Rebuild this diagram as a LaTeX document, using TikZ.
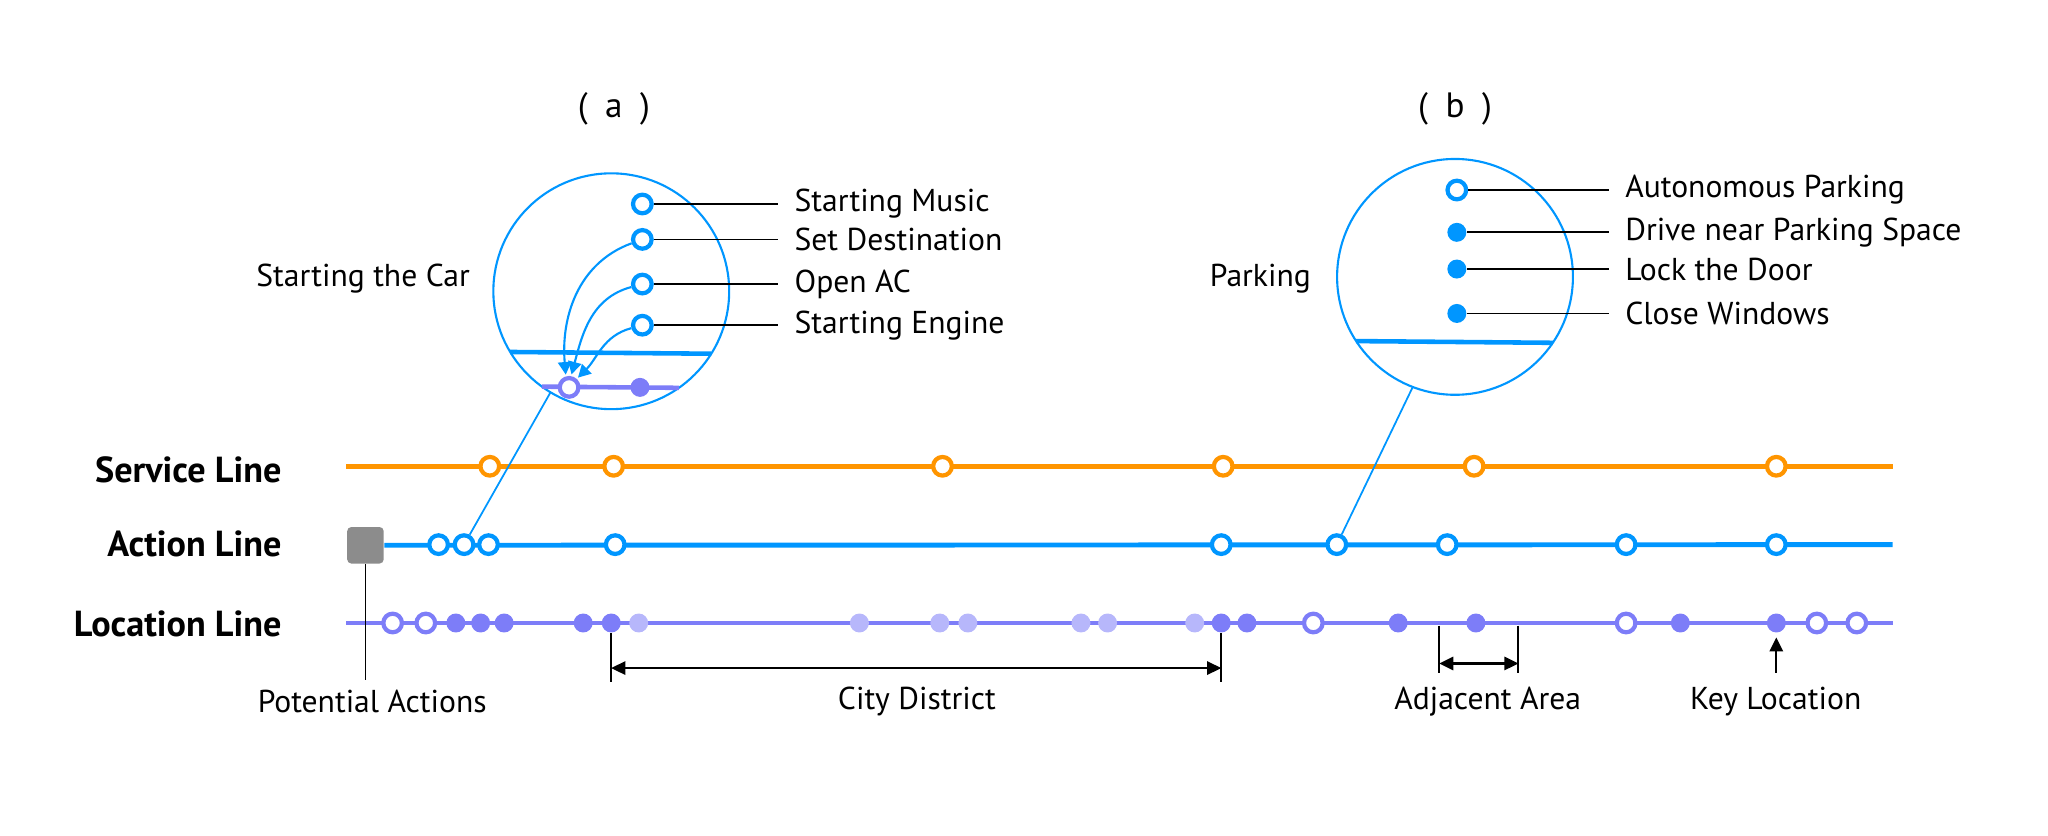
\documentclass[tikz,border=0pt]{standalone}
\usepackage{fontspec}
\setmainfont{PT Sans}
\usetikzlibrary{arrows.meta, positioning}
\definecolor{serviceorange}{RGB}{255,149,0}
\definecolor{actionblue}{RGB}{0,150,255}
\definecolor{locpurple}{RGB}{125,125,248}
\colorlet{locfaint}{locpurple!55}
\definecolor{potgrey}{RGB}{140,140,140}

\begin{document}
\begin{tikzpicture}[x=0.01306cm, y=0.01306cm,
    every node/.style={font=\fontsize{9}{11}\selectfont},
    rowlabel/.style={anchor=east, font=\fontsize{10.3}{12}\selectfont\bfseries},
    lbl/.style={anchor=west, inner xsep=4.4pt, inner ysep=1pt},
    ring/.style={circle, draw=#1, fill=white, line width=1.2pt, minimum size=5.3pt, inner sep=0pt},
    dot/.style={circle, fill=#1, minimum size=5.4pt, inner sep=0pt},
    lochollow/.style={ring=locpurple},
    locdot/.style={dot=locpurple},
    locfaintdot/.style={dot=locfaint},
    lens/.style={circle, draw=actionblue, line width=0.6pt, minimum size=67.1pt, inner sep=0pt, outer sep=0pt},
    leader/.style={draw=black, line width=0.5pt},
    track/.style={line width=1.4pt},
    dim/.style={draw=black, line width=0.6pt, arrows={-Triangle[length=4pt, width=3.8pt]}},
    flow/.style={draw=actionblue, line width=0.6pt, arrows={-Triangle[length=3.6pt, width=3.8pt]}, shorten >=0.5pt},
]
    \useasboundingbox (0,0) rectangle (1568,640);

    % Row titles
    \node[rowlabel] (tservice) at (225,280) {Service Line};
    \node[rowlabel] (taction) at (225,223.4) {Action Line};
    \node[rowlabel] (tloc) at (225,162.7) {Location Line};

    % Service line
    \coordinate (sstart) at (265,283);
    \coordinate (send) at (1449,283);
    \draw[serviceorange, track] (sstart) -- (send);
    \foreach \x [count=\i] in {375, 469.8, 721.6, 936.5, 1128.6, 1360}
        \node[ring=serviceorange] (s\i) at (\x,283) {};

    % Action line
    \node[fill=potgrey, rounded corners=1.2pt, minimum size=10.4pt, inner sep=0pt] (pa) at (279.8,222.5) {};
    \coordinate (aend) at (1449,223);
    \draw[actionblue, track] (pa.east) -- (aend);
    \foreach \x [count=\i] in {335.8, 355.3, 374, 471, 935, 1023.5, 1108, 1245, 1360}
        \node[ring=actionblue] (a\i) at (\x,223) {};

    % Location line
    \coordinate (lstart) at (265,163);
    \coordinate (lend) at (1449,163);
    \draw[locpurple, track] (lstart) -- (lend);
    \foreach \x/\t [count=\i] in {300.6/lochollow, 326/lochollow, 349/locdot, 368/locdot, 386/locdot,
        446.5/locdot, 468/locdot, 489/locfaintdot, 658/locfaintdot, 719.5/locfaintdot, 741/locfaintdot,
        827.6/locfaintdot, 848/locfaintdot, 914.7/locfaintdot, 935/locdot, 954.7/locdot, 1005.5/lochollow,
        1070.5/locdot, 1130/locdot, 1245/lochollow, 1286.5/locdot, 1360/locdot, 1391/lochollow, 1421.6/lochollow}
        \node[\t] (l\i) at (\x,163) {};

    % (a) Starting the car
    \node[font=\fontsize{10}{12}\selectfont] (titlea) at (470,557) {(\enspace a\enspace)};
    \node[lens] (lensa) at (468,417) {};
    \node (tcar) at (278,427) {Starting the Car};
    \draw[actionblue, line width=1.3pt] (lensa.211.3) -- (lensa.328.7);
    \draw[locpurple, line width=1.3pt] (lensa.234.4) -- (lensa.305.6);
    \node[lochollow] (lpa) at (435.7,343.4) {};
    \node[locdot] (lpb) at (490,343.4) {};
    \node[ring=actionblue] (sm) at (491.8,483.8) {};
    \node[ring=actionblue] (sd) at (491.8,456.7) {};
    \node[ring=actionblue] (oa) at (491.8,422.5) {};
    \node[ring=actionblue] (se) at (491.8,391) {};
    \node[lbl] (tsm) at (596,483.8) {Starting Music};
    \node[lbl] (tsd) at (596,456.7) {Set Destination};
    \node[lbl] (toa) at (596,422.5) {Open AC};
    \node[lbl] (tse) at (596,391) {Starting Engine};
    \draw[leader] (sm) -- (tsm.west);
    \draw[leader] (sd) -- (tsd.west);
    \draw[leader] (oa) -- (toa.west);
    \draw[leader] (se) -- (tse.west);
    \draw[flow] (sd.200) to[out=200, in=95] (lpa.106);
    \draw[flow] (oa.195) to[out=195, in=75] (lpa.80);
    \draw[flow] (se.195) to[out=195, in=45] (lpa.48);
    \draw[actionblue, line width=0.5pt] (a2) -- (lensa.239.4);

    % (b) Parking
    \node[font=\fontsize{10}{12}\selectfont] (titleb) at (1114,557) {(\enspace b\enspace)};
    \node[lens] (lensb) at (1114,428) {};
    \node (tpark) at (965,427) {Parking};
    \draw[actionblue, line width=1.3pt] (lensb.213.8) -- (lensb.326.2);
    \node[ring=actionblue] (ap) at (1115.4,494.5) {};
    \node[dot=actionblue] (dn) at (1115.4,462.1) {};
    \node[dot=actionblue] (ld) at (1115.4,434) {};
    \node[dot=actionblue] (cw) at (1115.4,400) {};
    \node[lbl] (tap) at (1232,494.5) {Autonomous Parking};
    \node[lbl] (tdn) at (1232,462.1) {Drive near Parking Space};
    \node[lbl] (tld) at (1232,434) {Lock the Door};
    \node[lbl] (tcw) at (1232,400) {Close Windows};
    \draw[leader] (ap) -- (tap.west);
    \draw[leader] (dn) -- (tdn.west);
    \draw[leader] (ld) -- (tld.west);
    \draw[leader] (cw) -- (tcw.west);
    \draw[actionblue, line width=0.5pt] (a6) -- (lensb.249.4);

    % Potential actions
    \node (tpa) at (285,103) {Potential Actions};
    \coordinate (pend) at (279.8,119);
    \draw[leader] (pa.south) -- (pend);

    % City district
    \node (tcd) at (702,103) {City District};
    \coordinate (cd1) at (468,118);
    \coordinate (cd2) at (935,118);
    \coordinate (cda) at (468,128.5);
    \coordinate (cdb) at (935,128.5);
    \draw[leader] (l7) -- (cd1);
    \draw[leader] (l15) -- (cd2);
    \draw[dim, arrows={Triangle[length=4pt, width=3.8pt]-Triangle[length=4pt, width=3.8pt]}] (cda) -- (cdb);

    % Adjacent area
    \node (taa) at (1139,103) {Adjacent Area};
    \coordinate (aa1) at (1102,161);
    \coordinate (aa1b) at (1102,124.4);
    \coordinate (aa2) at (1162.5,161);
    \coordinate (aa2b) at (1162.5,124.4);
    \coordinate (aaa) at (1102,132);
    \coordinate (aab) at (1162.5,132);
    \draw[leader] (aa1) -- (aa1b);
    \draw[leader] (aa2) -- (aa2b);
    \draw[dim, arrows={Triangle[length=4pt, width=3.8pt]-Triangle[length=4pt, width=3.8pt]}] (aaa) -- (aab);

    % Key location
    \node (tkey) at (1359.5,103) {Key Location};
    \coordinate (keyb) at (1360,125);
    \draw[dim, shorten >=1.2pt] (keyb) -- (l22);
\end{tikzpicture}
\end{document}
